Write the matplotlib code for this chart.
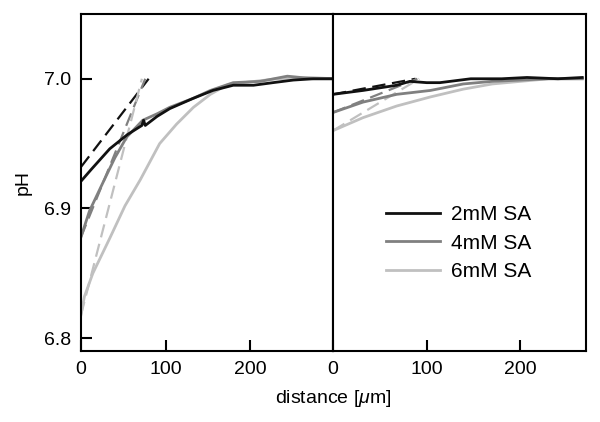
import matplotlib
matplotlib.use("Agg")
import matplotlib.pyplot as plt

plt.rcParams["font.family"] = ["Liberation Sans", "DejaVu Sans"]
plt.rcParams["mathtext.fontset"] = "custom"
plt.rcParams["mathtext.it"] = "Liberation Sans:italic"

LABELS = ["2mM SA", "4mM SA", "6mM SA"]
COLORS = ["#111111", "#808080", "#c0c0c0"]

# left panel, measured profiles
left_x_2 = [0, 12, 34, 55, 72, 74, 76, 90, 105, 133, 156, 180, 204, 227, 251, 275, 298]
left_y_2 = [6.921, 6.930, 6.946, 6.957, 6.964, 6.968, 6.964, 6.971, 6.977, 6.985, 6.991,
            6.995, 6.995, 6.997, 6.999, 7.000, 7.000]
left_x_4 = [0, 10, 26, 40, 54, 73, 90, 105, 133, 153, 180, 212, 244, 275, 298]
left_y_4 = [6.878, 6.898, 6.920, 6.939, 6.955, 6.968, 6.973, 6.978, 6.985, 6.991, 6.997,
            6.998, 7.002, 7.000, 7.000]
left_x_6 = [0, 4, 14, 34, 52, 70, 93, 113, 133, 153, 172, 192, 232, 271, 298]
left_y_6 = [6.818, 6.832, 6.850, 6.877, 6.902, 6.922, 6.950, 6.965, 6.978, 6.988, 6.995,
            6.997, 7.000, 7.001, 7.000]

# left panel, dashed initial slopes
left_fit_x = [[0, 80], [0, 76], [0, 72]]
left_fit_y = [[6.932, 7.0], [6.878, 7.0], [6.818, 7.0]]

# right panel, measured profiles
right_x_2 = [0, 32, 68, 82, 100, 114, 147, 180, 207, 240, 266]
right_y_2 = [6.988, 6.991, 6.995, 6.998, 6.997, 6.997, 7.000, 7.000, 7.001, 7.000, 7.001]
right_x_4 = [0, 32, 68, 104, 139, 170, 200, 230, 266]
right_y_4 = [6.974, 6.982, 6.988, 6.991, 6.996, 6.998, 6.999, 7.000, 7.000]
right_x_6 = [0, 32, 68, 104, 139, 170, 200, 230, 266]
right_y_6 = [6.960, 6.970, 6.979, 6.986, 6.992, 6.996, 6.998, 7.000, 7.000]

right_fit_x = [[0, 88], [0, 90], [0, 92]]
right_fit_y = [[6.988, 7.0], [6.974, 7.0], [6.960, 7.0]]


def style_axis(ax):
    for spine in ax.spines.values():
        spine.set_linewidth(1.5)
        spine.set_color("black")
    ax.tick_params(direction="in", length=8, width=1.5, labelsize=14, pad=7)


fig = plt.figure(figsize=(6.0, 4.22), dpi=100)
ax1 = fig.add_axes([0.135, 0.168, 0.42, 0.799])
ax2 = fig.add_axes([0.555, 0.168, 0.4217, 0.799])

left_x = [left_x_2, left_x_4, left_x_6]
left_y = [left_y_2, left_y_4, left_y_6]
right_x = [right_x_2, right_x_4, right_x_6]
right_y = [right_y_2, right_y_4, right_y_6]

for i in range(3):
    ax1.plot(left_fit_x[i], left_fit_y[i], color=COLORS[i], lw=1.6, ls=(0, (6, 3)))
    ax2.plot(right_fit_x[i], right_fit_y[i], color=COLORS[i], lw=1.6, ls=(0, (6, 3)))
for i in reversed(range(3)):
    ax1.plot(left_x[i], left_y[i], color=COLORS[i], lw=2.0)
    ax2.plot(right_x[i], right_y[i], color=COLORS[i], lw=2.0, label=LABELS[i])

ax1.set_xlim(0, 298)
ax2.set_xlim(0, 270)
for ax in (ax1, ax2):
    ax.set_ylim(6.79, 7.05)
    ax.set_xticks([0, 100, 200])
    style_axis(ax)

ax1.set_yticks([6.8, 6.9, 7.0])
ax1.set_yticklabels(["6.8", "6.9", "7.0"])
ax1.set_ylabel("pH", fontsize=14, labelpad=9)
ax2.set_yticks([])

handles, labels = ax2.get_legend_handles_labels()
ax2.legend(handles[::-1], labels[::-1], loc="center left", bbox_to_anchor=(0.21, 0.32),
           frameon=False, fontsize=15, handlelength=2.6, handletextpad=0.5,
           labelspacing=0.45, borderpad=0, borderaxespad=0)

fig.text(0.555, 0.045, "distance [$\\mathit{\\mu}$m]", ha="center", fontsize=14)

fig.savefig("out.png", dpi=100)
